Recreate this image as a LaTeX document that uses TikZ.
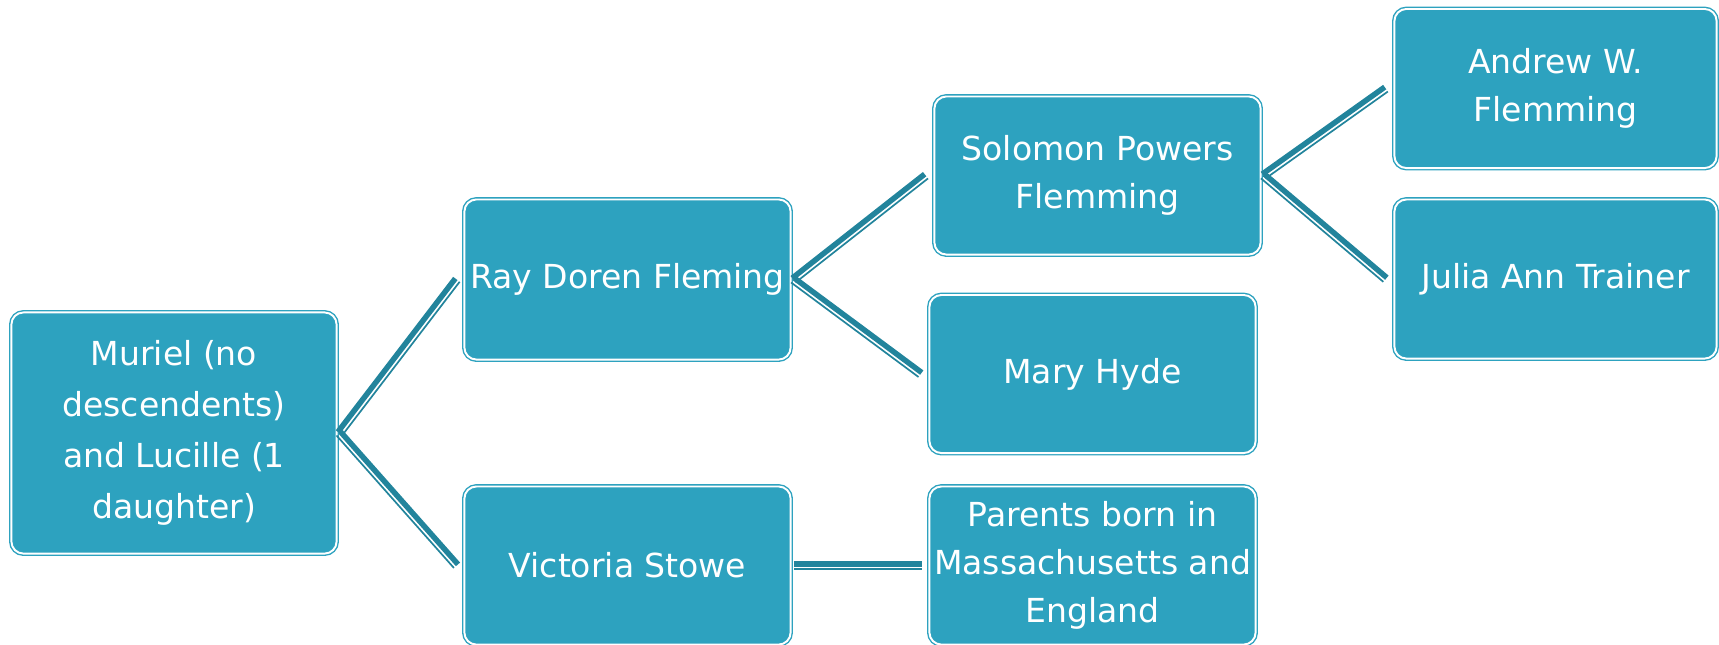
\documentclass[tikz,border=0pt]{standalone}
\usepackage{fontspec}
\setmainfont{DejaVu Sans}
\usetikzlibrary{calc}
\definecolor{boxc}{HTML}{2DA2BF}
\definecolor{linec}{HTML}{22849C}
\newcommand\conn[2]{%
  \draw[linec, line width=0.055cm] ($(#1)!0.0175cm!90:(#2)$) -- ($(#2)!0.0175cm!-90:(#1)$);
  \draw[linec, line width=0.017cm] ($(#1)!0.037cm!-90:(#2)$) -- ($(#2)!0.037cm!90:(#1)$);
}
\begin{document}
\begin{tikzpicture}[x=0.01cm,y=-0.01cm,
  person/.style={rectangle, rounded corners=0.12cm, fill=boxc, draw=boxc,
    double=white, double distance=0.55pt, line width=0.4pt, text=white,
    font=\fontsize{9.4}{13.6}\selectfont, align=center, inner sep=0pt},
  ]
\useasboundingbox (0,0) rectangle (1719,644);
\node[person, minimum width=3.25cm, minimum height=2.41cm,
  font=\fontsize{9.4}{14.5}\selectfont] (mur) at (174,433)
  {Muriel (no\\descendents)\\and Lucille (1\\daughter)};
\node[person, minimum width=3.26cm, minimum height=1.60cm] (ray) at (627.5,279.5) {Ray Doren Fleming};
\node[person, minimum width=3.26cm, minimum height=1.58cm] (vic) at (627.5,565.5) {Victoria Stowe};
\node[person, minimum width=3.26cm, minimum height=1.58cm] (sol) at (1097.5,175.5) {Solomon Powers\\Flemming};
\node[person, minimum width=3.26cm, minimum height=1.58cm] (mary) at (1092.5,374) {Mary Hyde};
\node[person, minimum width=3.26cm, minimum height=1.58cm] (par) at (1092.5,565.5) {Parents born in\\Massachusetts and\\England};
\node[person, minimum width=3.22cm, minimum height=1.59cm] (and) at (1555.5,88.5) {Andrew W.\\Flemming};
\node[person, minimum width=3.22cm, minimum height=1.59cm] (jul) at (1555.5,279) {Julia Ann Trainer};

\coordinate (murA) at ($(mur.east)+(2,0)$);
\coordinate (rayA) at ($(ray.east)+(2,0)$);
\coordinate (solA) at ($(sol.east)+(2,0)$);
\coordinate (vicA) at ($(vic.east)+(3,0)$);
\coordinate (rayB) at ($(ray.west)+(-7,0)$);
\coordinate (vicB) at ($(vic.west)+(-7,0)$);
\coordinate (solB) at ($(sol.west)+(-8,0)$);
\coordinate (maryB) at ($(mary.west)+(-8,0)$);
\coordinate (parB) at ($(par.west)+(-7,0)$);
\coordinate (andB) at ($(and.west)+(-8,0)$);
\coordinate (julB) at ($(jul.west)+(-8,0)$);

\conn{murA}{rayB}
\conn{murA}{vicB}
\conn{rayA}{solB}
\conn{rayA}{maryB}
\conn{solA}{andB}
\conn{solA}{julB}
\conn{vicA}{parB}
\end{tikzpicture}
\end{document}
